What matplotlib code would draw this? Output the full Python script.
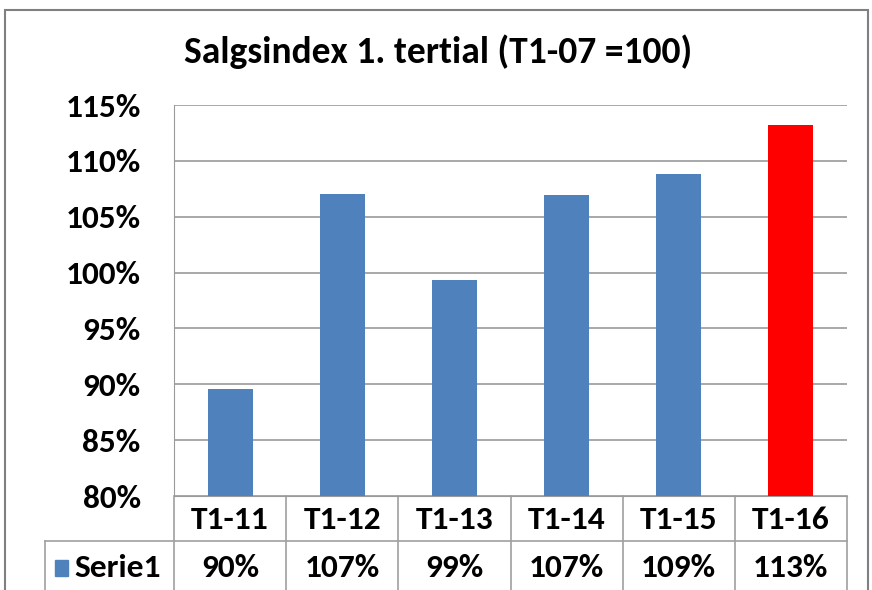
import matplotlib.pyplot as plt
import matplotlib.patches as mpatches

categories = ['T1-11', 'T1-12', 'T1-13', 'T1-14', 'T1-15', 'T1-16']
values = [89.6, 107.0, 99.3, 106.9, 108.8, 113.2]
table_labels = ['90%', '107%', '99%', '107%', '109%', '113%']
series_name = 'Serie1'
title = 'Salgsindex 1. tertial (T1-07 =100)'

blue = '#4F81BD'
red = '#FF0000'
colors = [blue] * 5 + [red]

plt.rcParams['font.family'] = ['Carlito', 'DejaVu Sans']
plt.rcParams['font.weight'] = 'bold'
fsize = 24

W, H = 872, 590
fig = plt.figure(figsize=(W / 100, H / 100), dpi=100)

# plot area in pixels
left, right, top, bottom = 174, 847, 105, 496
ax = fig.add_axes([left / W, 1 - bottom / H, (right - left) / W, (bottom - top) / H])

x = range(len(categories))
ax.bar(x, [v - 80 for v in values], bottom=80, width=0.4, color=colors, zorder=3)
ax.set_xlim(-0.5, len(categories) - 0.5)
ax.set_ylim(80, 115)
ax.set_yticks(range(80, 116, 5))
ax.set_yticklabels([f'{t}%' for t in range(80, 116, 5)], fontsize=fsize, fontweight='bold')
ax.tick_params(axis='y', length=0, pad=24)
ax.set_xticks([])
ax.grid(axis='y', color='#9a9a9a', linewidth=1.2, zorder=0)
for s in ['top', 'right']:
    ax.spines[s].set_visible(False)
ax.spines['left'].set_color('#9a9a9a')
ax.spines['bottom'].set_color('#9a9a9a')

# data table below the axis
ph = bottom - top
row1 = -(541 - bottom) / ph
row2 = -(600 - bottom) / ph
tr = ax.get_xaxis_transform()
lc = '#a0a0a0'
key_x = (45 - left) / (right - left) * 6 - 0.5
for i in range(len(categories) + 1):
    ax.plot([i - 0.5, i - 0.5], [0, row2], transform=tr, color=lc, lw=1.2, clip_on=False)
ax.plot([key_x, 5.5], [row1, row1], transform=tr, color=lc, lw=1.2, clip_on=False)
ax.plot([key_x, key_x], [row1, row2], transform=tr, color=lc, lw=1.2, clip_on=False)
for i, c in enumerate(categories):
    ax.text(i, -(520 - bottom) / ph, c, transform=tr, ha='center', va='center',
            fontsize=fsize, fontweight='bold')
    ax.text(i, -(568 - bottom) / ph, table_labels[i], transform=tr,
            ha='center', va='center', fontsize=fsize, fontweight='bold')
ax.add_patch(mpatches.Rectangle((55 / W, 1 - 576 / H), 13 / W, 16 / H, transform=fig.transFigure,
                                color=blue, clip_on=False))
fig.text(74 / W, 1 - 568 / H, series_name, ha='left', va='center', fontsize=fsize, fontweight='bold')

fig.text(438 / W, 1 - 52 / H, title, ha='center', va='center', fontsize=27, fontweight='bold')

# outer chart border
fig.add_artist(mpatches.Rectangle((5 / W, -0.05), 863 / W, 1 - 10 / H + 0.05, transform=fig.transFigure,
                                  fill=False, edgecolor='#808080', linewidth=1.5))

fig.savefig('out.png', dpi=100)
